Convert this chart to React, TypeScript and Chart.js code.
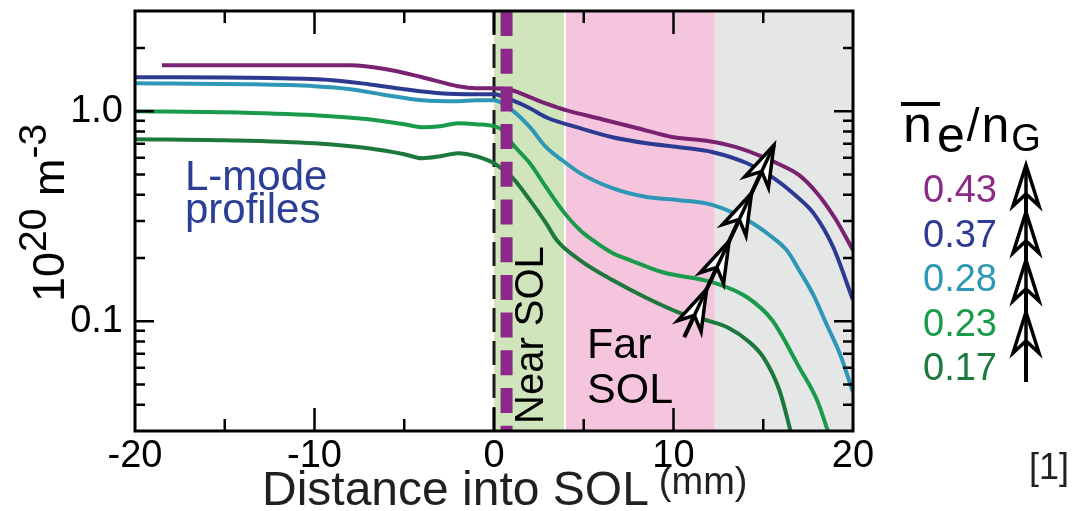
import React, { useEffect, useRef } from 'react';
import { Chart, registerables } from 'chart.js';

Chart.register(...registerables);

const FONT = '"Liberation Sans", Arial, Helvetica, sans-serif';

// Line-averaged density over Greenwald density for each profile
const fractionLabels = ['0.43', '0.37', '0.28', '0.23', '0.17'];
const fractionColors = ['#7a2272', '#2c3a92', '#2e97b5', '#1a9b4c', '#1d783d'];
const fractionTextColors = ['#8a2b86', '#2c3a96', '#2e97b5', '#1a9b4c', '#1d7a3d'];

// Distance into SOL (mm) and density (10^20 m^-3) per profile
const dist043 = [-18.5, -12, -8, -6, -4, -2, -1, 0, 1, 2, 3, 4, 6, 8, 10, 12, 13.5, 15, 16, 17, 18, 19, 20];
const ne043 = [1.656, 1.656, 1.656, 1.585, 1.452, 1.315, 1.287, 1.287, 1.259, 1.166, 1.08, 1.011, 0.916, 0.83, 0.752, 0.72, 0.674, 0.604, 0.553, 0.496, 0.407, 0.309, 0.218];

const dist037 = [-20, -12, -9, -7, -5, -3, -1, 0, 1, 2, 2.9, 4.8, 6.6, 8.5, 10.3, 12.2, 14.1, 15.5, 16.9, 17.8, 18.9, 20];
const ne037 = [1.452, 1.436, 1.405, 1.345, 1.273, 1.218, 1.205, 1.205, 1.128, 1.033, 0.936, 0.83, 0.752, 0.704, 0.674, 0.638, 0.565, 0.485, 0.39, 0.327, 0.225, 0.126];

const dist028 = [-20, -14, -10, -8, -6, -4, -2, -1, 0, 1, 2, 2.9, 3.8, 4.8, 6.6, 8.5, 10.3, 12.2, 14.1, 15.5, 16.3, 17, 17.8, 18.5, 19.3, 20];
const ne028 = [1.359, 1.345, 1.315, 1.273, 1.192, 1.128, 1.116, 1.128, 1.128, 1.011, 0.839, 0.674, 0.584, 0.507, 0.43, 0.39, 0.377, 0.357, 0.303, 0.251, 0.218, 0.175, 0.133, 0.0978, 0.0689, 0.0459];

const dist023 = [-20, -15, -10, -7, -5, -4, -3, -2, -1, 0, 0.5, 1, 2, 2.9, 3.8, 4.8, 5.5, 6.6, 7.6, 9.4, 12.2, 14.1, 15.5, 17, 18, 18.7];
const ne023 = [1.0, 0.989, 0.957, 0.916, 0.867, 0.839, 0.848, 0.877, 0.867, 0.848, 0.812, 0.704, 0.565, 0.435, 0.338, 0.271, 0.243, 0.211, 0.195, 0.171, 0.153, 0.13, 0.101, 0.0604, 0.042, 0.0283];

const dist017 = [-20, -15, -10, -7, -5, -4, -3, -2, -1, 0, 1, 2, 2.9, 3.5, 4.8, 6.6, 8.5, 10.3, 12.2, 13.1, 14.1, 15, 15.9, 16.6];
const ne017 = [0.736, 0.728, 0.704, 0.666, 0.624, 0.597, 0.61, 0.631, 0.61, 0.565, 0.485, 0.377, 0.293, 0.243, 0.195, 0.157, 0.129, 0.11, 0.0989, 0.0926, 0.0812, 0.0674, 0.0469, 0.0283];

const profileDistances = [dist043, dist037, dist028, dist023, dist017];
const profileDensities = [ne043, ne037, ne028, ne023, ne017];

// Axis ticks
const xTickValues = [-20, -15, -10, -5, 0, 5, 10, 15, 20];
const xLabelledTicks = [-20, -10, 0, 10, 20];
const yTickValues = [0.03, 0.04, 0.05, 0.06, 0.07, 0.08, 0.09, 0.1, 0.2, 0.3, 0.4, 0.5, 0.6, 0.7, 0.8, 0.9, 1, 2, 3];
const yLabelledTicks = [0.1, 1];

// SOL regions (mm)
const nearSolRange = [0, 3.9];
const farSolRange = [4.0, 12.3];
const wallRange = [12.3, 20];
const separatrixX = 0;
const limiterShadowX = 0.7;

// Trend arrow across the profiles (mm, 10^20 m^-3)
const trendArrowTail = { x: 10.6, y: 0.084 };
const trendArrowTip = { x: 15.6, y: 0.69 };
const trendHeadFractions = [0.25, 0.5, 0.75, 1.0];

function arrowHead(ctx: CanvasRenderingContext2D, tx: number, ty: number, dx: number, dy: number) {
  const L = Math.hypot(dx, dy);
  const theta = Math.atan2(dx / L, -dy / L);
  ctx.save();
  ctx.translate(tx, ty);
  ctx.rotate(theta);
  ctx.beginPath();
  ctx.moveTo(0, 0);
  ctx.lineTo(13, 41);
  ctx.lineTo(0, 29);
  ctx.lineTo(-13, 41);
  ctx.closePath();
  ctx.fillStyle = '#ffffff';
  ctx.fill();
  ctx.lineWidth = 3.5;
  ctx.lineJoin = 'miter';
  ctx.strokeStyle = '#000';
  ctx.stroke();
  ctx.restore();
}

function multiArrow(ctx: CanvasRenderingContext2D, x0: number, y0: number, x1: number, y1: number, fracs: number[]) {
  const dx = x1 - x0;
  const dy = y1 - y0;
  ctx.save();
  ctx.strokeStyle = '#000';
  ctx.lineWidth = 4;
  ctx.lineCap = 'butt';
  ctx.beginPath();
  ctx.moveTo(x0, y0);
  ctx.lineTo(x1, y1);
  ctx.stroke();
  fracs.forEach((f) => arrowHead(ctx, x0 + dx * f, y0 + dy * f, dx, dy));
  ctx.beginPath();
  ctx.moveTo(x0, y0);
  ctx.lineTo(x0 + dx * 0.99, y0 + dy * 0.99);
  ctx.lineWidth = 3.5;
  ctx.stroke();
  ctx.restore();
}

function text(ctx: CanvasRenderingContext2D, s: string, x: number, y: number, size: number, color = '#000', align: CanvasTextAlign = 'left') {
  ctx.font = `${size}px ${FONT}`;
  ctx.fillStyle = color;
  ctx.textAlign = align;
  ctx.textBaseline = 'alphabetic';
  ctx.fillText(s, x, y);
  return ctx.measureText(s).width;
}

const decorPlugin = {
  id: 'solDecor',
  beforeDatasetsDraw(chart: any) {
    const ctx: CanvasRenderingContext2D = chart.ctx;
    const { top, bottom } = chart.chartArea;
    const xs = chart.scales.x;
    const band = (r: number[], color: string) => {
      const a = xs.getPixelForValue(r[0]);
      const b = xs.getPixelForValue(r[1]);
      ctx.fillStyle = color;
      ctx.fillRect(a, top, b - a, bottom - top);
    };
    ctx.save();
    band(nearSolRange, '#d0e5bb');
    band(farSolRange, '#f5c5dd');
    band(wallRange, '#e5e6e6');

    // separatrix
    const sx = xs.getPixelForValue(separatrixX);
    ctx.strokeStyle = '#1a1a1a';
    ctx.lineWidth = 3;
    ctx.setLineDash([24, 9]);
    ctx.beginPath();
    ctx.moveTo(sx, top);
    ctx.lineTo(sx, bottom);
    ctx.stroke();
    ctx.setLineDash([]);

    // region labels
    text(ctx, 'L-mode', 185, 190, 42, '#2c3e96');
    text(ctx, 'profiles', 185, 223, 42, '#2c3e96');
    text(ctx, 'Far', 587, 358, 43);
    text(ctx, 'SOL', 587, 403, 43);
    ctx.save();
    ctx.translate(543, 424);
    ctx.rotate(-Math.PI / 2);
    text(ctx, 'Near SOL', 0, 0, 40);
    ctx.restore();
    ctx.restore();
  },
  afterDatasetsDraw(chart: any) {
    const ctx: CanvasRenderingContext2D = chart.ctx;
    const { left, right, top, bottom } = chart.chartArea;
    const xs = chart.scales.x;
    const ys = chart.scales.y;
    ctx.save();

    // limiter shadow boundary
    const lx = xs.getPixelForValue(limiterShadowX);
    ctx.strokeStyle = '#8b288a';
    ctx.lineWidth = 12;
    ctx.setLineDash([25, 12.7]);
    ctx.beginPath();
    ctx.moveTo(lx, top);
    ctx.lineTo(lx, bottom);
    ctx.stroke();
    ctx.setLineDash([]);

    // trend arrow
    multiArrow(
      ctx,
      xs.getPixelForValue(trendArrowTail.x),
      ys.getPixelForValue(trendArrowTail.y),
      xs.getPixelForValue(trendArrowTip.x),
      ys.getPixelForValue(trendArrowTip.y),
      trendHeadFractions
    );

    // frame and inward ticks
    ctx.strokeStyle = '#000';
    ctx.lineWidth = 2.5;
    ctx.beginPath();
    xTickValues.forEach((v) => {
      if (v <= -20 || v >= 20) return;
      const px = xs.getPixelForValue(v);
      const len = xLabelledTicks.includes(v) ? 23 : 12;
      ctx.moveTo(px, bottom);
      ctx.lineTo(px, bottom - len);
      ctx.moveTo(px, top);
      ctx.lineTo(px, top + len);
    });
    yTickValues.forEach((v) => {
      if (v <= 0.03 || v >= 3) return;
      const py = ys.getPixelForValue(v);
      const len = yLabelledTicks.includes(v) ? 19 : 10;
      ctx.moveTo(left, py);
      ctx.lineTo(left + len, py);
      ctx.moveTo(right, py);
      ctx.lineTo(right - len, py);
    });
    ctx.stroke();
    ctx.lineWidth = 3;
    ctx.strokeRect(left, top, right - left, bottom - top);

    // axis titles
    const w = text(ctx, 'Distance into SOL', 262, 505, 48, '#231f20');
    text(ctx, '(mm)', 262 + w + 10, 494, 38, '#231f20');

    ctx.save();
    ctx.translate(64, 302);
    ctx.rotate(-Math.PI / 2);
    let cx = 0;
    cx += text(ctx, '10', cx, 0, 45);
    cx += text(ctx, '20', cx, -18, 39);
    cx += text(ctx, ' m', cx, 0, 45);
    text(ctx, '-3', cx, -18, 39);
    ctx.restore();

    // density fraction key
    let kx = 903;
    const nw = text(ctx, 'n', kx, 142, 52);
    ctx.lineWidth = 4;
    ctx.beginPath();
    ctx.moveTo(kx - 2, 104);
    ctx.lineTo(kx + nw + 8, 104);
    ctx.stroke();
    kx += nw + 5;
    kx += text(ctx, 'e', kx, 152, 50);
    kx += text(ctx, '/', kx + 2, 141, 46) + 4;
    kx += text(ctx, 'n', kx, 142, 50);
    text(ctx, 'G', kx + 2, 151, 38);

    fractionLabels.forEach((lab, i) => {
      text(ctx, lab, 997, 202 + i * 44.5, 38, fractionTextColors[i], 'right');
    });
    ctx.strokeStyle = '#000';
    ctx.lineWidth = 4;
    ctx.beginPath();
    ctx.moveTo(1026, 382);
    ctx.lineTo(1026, 166);
    ctx.stroke();
    [165, 212, 260, 312].forEach((ty) => arrowHead(ctx, 1026, ty, 0, -1));
    ctx.lineWidth = 3.5;
    ctx.beginPath();
    ctx.moveTo(1026, 382);
    ctx.lineTo(1026, 168);
    ctx.stroke();

    text(ctx, '[1]', 1029, 479, 36, '#231f20');
    ctx.restore();
  },
};

export default function App() {
  const canvasRef = useRef<HTMLCanvasElement>(null);

  useEffect(() => {
    document.body.style.margin = '0';
    const datasets = profileDistances.map((xsArr, i) => ({
      label: fractionLabels[i],
      data: xsArr.map((x, j) => ({ x, y: profileDensities[i][j] })),
      borderColor: fractionColors[i],
      borderWidth: 4,
      pointRadius: 0,
      fill: false,
      cubicInterpolationMode: 'monotone' as const,
      clip: 0,
    })).reverse();

    const chart = new Chart(canvasRef.current!, {
      type: 'line',
      data: { datasets },
      options: {
        animation: false,
        responsive: false,
        devicePixelRatio: 1,
        layout: { autoPadding: false, padding: { left: 0, top: 11, right: 223, bottom: 0 } },
        plugins: { legend: { display: false }, tooltip: { enabled: false } },
        scales: {
          x: {
            type: 'linear',
            min: -20,
            max: 20,
            grid: { display: false, drawTicks: false },
            border: { display: false },
            afterBuildTicks: (s: any) => {
              s.ticks = xLabelledTicks.map((v) => ({ value: v }));
            },
            afterFit: (s: any) => {
              s.height = 80;
              s.paddingLeft = 0;
              s.paddingRight = 0;
              s.paddingTop = 0;
              s.paddingBottom = 0;
            },
            ticks: {
              autoSkip: false,
              maxRotation: 0,
              padding: 3,
              color: '#000',
              font: { family: FONT, size: 38 },
              callback: (v: any) => String(v),
            },
          },
          y: {
            type: 'logarithmic',
            min: 0.03,
            max: 3,
            grid: { display: false, drawTicks: false },
            border: { display: false },
            afterBuildTicks: (s: any) => {
              s.ticks = yLabelledTicks.map((v) => ({ value: v }));
            },
            afterFit: (s: any) => {
              s.width = 135;
              s.paddingLeft = 0;
              s.paddingRight = 0;
              s.paddingTop = 0;
              s.paddingBottom = 0;
            },
            ticks: {
              autoSkip: false,
              padding: 12,
              color: '#000',
              font: { family: FONT, size: 38 },
              callback: (v: any) => (Math.abs(Number(v) - 1) < 1e-9 ? '1.0' : '0.1'),
            },
          },
        },
      },
      plugins: [decorPlugin],
    });
    return () => chart.destroy();
  }, []);

  return (
    <div style={{ width: 1076, height: 511 }}>
      <canvas ref={canvasRef} width={1076} height={511} style={{ display: 'block' }} />
    </div>
  );
}
